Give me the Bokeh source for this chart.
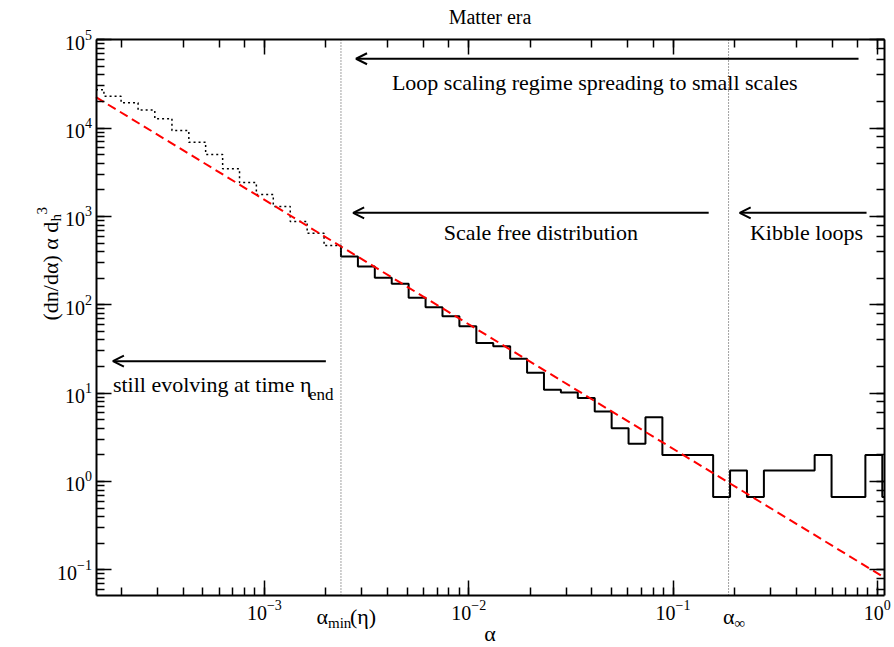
import numpy as np
from bokeh.plotting import figure
from bokeh.models import (LogTicker, LogAxis, Label, Arrow, OpenHead, Range1d,
                          CustomJSTickFormatter)
from bokeh.embed import file_html
from bokeh.resources import INLINE

# ---------------- data ----------------
# logarithmic bin edges of the loop-distribution histogram
bin_edges = [1.36e-4, 1.64e-4, 1.99e-4, 2.41e-4, 2.91e-4, 3.53e-4, 4.27e-4, 5.16e-4,
             6.25e-4, 7.56e-4, 9.14e-4, 1.106e-3, 1.339e-3, 1.620e-3, 1.960e-3,
             2.371e-3, 2.870e-3, 3.472e-3, 4.201e-3, 5.084e-3, 6.152e-3, 7.443e-3,
             9.006e-3, 1.090e-2, 1.319e-2, 1.596e-2, 1.931e-2, 2.336e-2, 2.827e-2,
             3.420e-2, 4.139e-2, 5.008e-2, 6.060e-2, 7.331e-2, 8.872e-2, 0.1074,
             0.1299, 0.1572, 0.1902, 0.2301, 0.2785, 0.3370, 0.4077, 0.4934, 0.5970,
             0.7226, 0.8740, 1.0576, 1.280]
# loops still evolving (alpha < alpha_min), dotted
dotted_vals = [27200, 23000, 19400, 16000, 12800, 9400, 6930, 5030, 3460, 2420,
               1770, 1300, 877, 646, 469]
# scaling loops (alpha > alpha_min), solid
solid_vals = [352, 271, 202, 173, 120, 94, 74, 57, 37, 34, 24.5, 17, 10.9, 10.2, 8.8,
              6.2, 4.0, 2.67, 5.33, 2.0, 2.0, 2.0, 0.667, 1.333, 0.667, 1.333, 1.333,
              1.333, 2.0, 0.667, 0.667, 2.0, 0.667]
alpha_min = 2.371e-3
alpha_inf = 0.187
fit_x = [1.50e-4, 1.078]
fit_y = [22400, 0.0824]
x_lim = (1.50e-4, 1.078)
y_lim = (0.0512, 1.0e5)

# ---------------- layout (pixels) ----------------
W, H = 892, 645
BOX_L, BOX_R, BOX_T, BOX_B = 95.5, 883.5, 39.3, 595.0

lx0, lx1 = np.log10(x_lim)
ppx = (BOX_R - BOX_L) / (lx1 - lx0)
xr = (10 ** (lx0 - BOX_L / ppx), 10 ** (lx1 + (W - BOX_R) / ppx))
ly0, ly1 = np.log10(y_lim)
ppy = (BOX_B - BOX_T) / (ly1 - ly0)
yr = (10 ** (ly0 - (H - BOX_B) / ppy), 10 ** (ly1 + BOX_T / ppy))

n_dot = len(dotted_vals)
dot_edges = np.array(bin_edges[:n_dot + 1])
sol_edges = np.array(bin_edges[n_dot:])


def step_path(edges, vals):
    xs = np.repeat(edges, 2)[1:-1]
    ys = np.repeat(np.array(vals, dtype=float), 2)
    return np.clip(xs, *x_lim), ys


dx, dy = step_path(dot_edges, dotted_vals)
sx, sy = step_path(sol_edges, solid_vals)
sx = np.concatenate([[sol_edges[0]], sx])
sy = np.concatenate([[dotted_vals[-1]], sy])

FONT = "Liberation Serif"

p = figure(x_axis_type="log", y_axis_type="log",
           x_range=Range1d(*xr), y_range=Range1d(*yr),
           width=W, height=H, min_border=0,
           min_border_left=0, min_border_right=0, min_border_top=0, min_border_bottom=0,
           output_backend="svg", toolbar_location=None)
p.xgrid.visible = False
p.ygrid.visible = False
p.outline_line_color = None
p.background_fill_color = "white"
p.border_fill_color = "white"

blank = CustomJSTickFormatter(code="return ''")
bottom, left = p.below[0], p.left[0]
top = LogAxis(ticker=LogTicker(), formatter=blank)
right = LogAxis(ticker=LogTicker(), formatter=blank)
p.add_layout(top, "above")
p.add_layout(right, "right")

bottom.fixed_location = y_lim[0]
top.fixed_location = y_lim[1]
left.fixed_location = x_lim[0]
right.fixed_location = x_lim[1]
for ax in (bottom, top):
    ax.bounds = x_lim
for ax in (left, right):
    ax.bounds = y_lim

for ax in (bottom, left, top, right):
    ax.axis_line_width = 2
    ax.axis_line_color = "black"
    ax.major_tick_in = 15
    ax.major_tick_out = 0
    ax.minor_tick_in = 8
    ax.minor_tick_out = 0
    ax.major_tick_line_width = 1.5
    ax.minor_tick_line_width = 1.5
    ax.major_tick_line_color = "black"
    ax.minor_tick_line_color = "black"
    ax.major_label_text_font = FONT
    ax.major_label_text_font_size = "20px"
    ax.major_label_text_color = "black"
    ax.major_label_standoff = 4
for ax in (top, right):
    ax.major_label_text_font_size = "1px"
    ax.major_label_standoff = 0

# histogram + fit
p.line(dx, dy, line_color="black", line_width=1.5, line_dash="2 3")
p.line(sx, sy, line_color="black", line_width=2)
p.line(fit_x, fit_y, line_color="#ff0000", line_width=2, line_dash="9 5")

# alpha_min and alpha_inf markers
p.segment(x0=[alpha_min, alpha_inf], y0=[y_lim[0]] * 2, x1=[alpha_min, alpha_inf],
          y1=[y_lim[1]] * 2, line_color="#444444", line_width=1, line_dash="1 2")


# arrows
def arrow(x0, x1, y):
    p.add_layout(Arrow(end=OpenHead(size=11, line_width=2, line_color="black"),
                       x_start=x0, y_start=y, x_end=x1, y_end=y,
                       line_width=2, line_color="black"))


arrow(0.809, 2.81e-3, 6.1e4)
arrow(0.1495, 2.72e-3, 1100)
arrow(0.8855, 0.212, 1100)
arrow(2.0e-3, 1.815e-4, 23.0)


def lab(x, y, text, size="22px", align="center", baseline="middle", **kw):
    p.add_layout(Label(x=x, y=y, text=text, text_font=FONT, text_font_size=size,
                       text_align=align, text_baseline=baseline, text_color="black", **kw))


lab(0.0414, 3.29e4, "Loop scaling regime spreading to small scales")
lab(0.02254, 658, "Scale free distribution")
lab(0.45, 658, "Kibble loops")
lab(1.815e-4, 12.5, "still evolving at time \u03b7", align="left")
lab(1.815e-4, 12.5, "end", size="17px", align="left", x_offset=196, y_offset=-10)

# title, centred over the axis box
CX = (BOX_L + BOX_R) / 2
lab(CX, H - 16, "Matter era", size="20px", x_units="screen", y_units="screen")

# special x labels under the axis (baseline)
YB = H - 616
lab(alpha_min, YB, "\u03b1", align="right", baseline="alphabetic",
    y_units="screen", x_offset=-13)
lab(alpha_min, YB - 6, "min", size="15px", align="left", baseline="alphabetic",
    y_units="screen", x_offset=-13)
lab(alpha_min, YB, "(\u03b7)", align="left", baseline="alphabetic",
    y_units="screen", x_offset=9)
lab(alpha_inf, YB, "\u03b1", align="right", baseline="alphabetic",
    y_units="screen", x_offset=6)
lab(alpha_inf, YB - 6, "\u221e", size="15px", align="left", baseline="alphabetic",
    y_units="screen", x_offset=6)

# x axis title, centred under the axis box
lab(CX, H - 633, "\u03b1", x_units="screen", y_units="screen")

# y axis title (rotated, reading upwards)
ANG = np.pi / 2
lab(50, H - 320, "(dn/d\u03b1) \u03b1 d", align="left", baseline="alphabetic",
    x_units="screen", y_units="screen", angle=ANG)
lab(55, H - 320 + 99, "h", size="15px", align="left", baseline="alphabetic",
    x_units="screen", y_units="screen", angle=ANG)
lab(41, H - 320 + 106, "3", size="15px", align="left", baseline="alphabetic",
    x_units="screen", y_units="screen", angle=ANG)

open("out.html", "w").write(file_html(p, INLINE))
